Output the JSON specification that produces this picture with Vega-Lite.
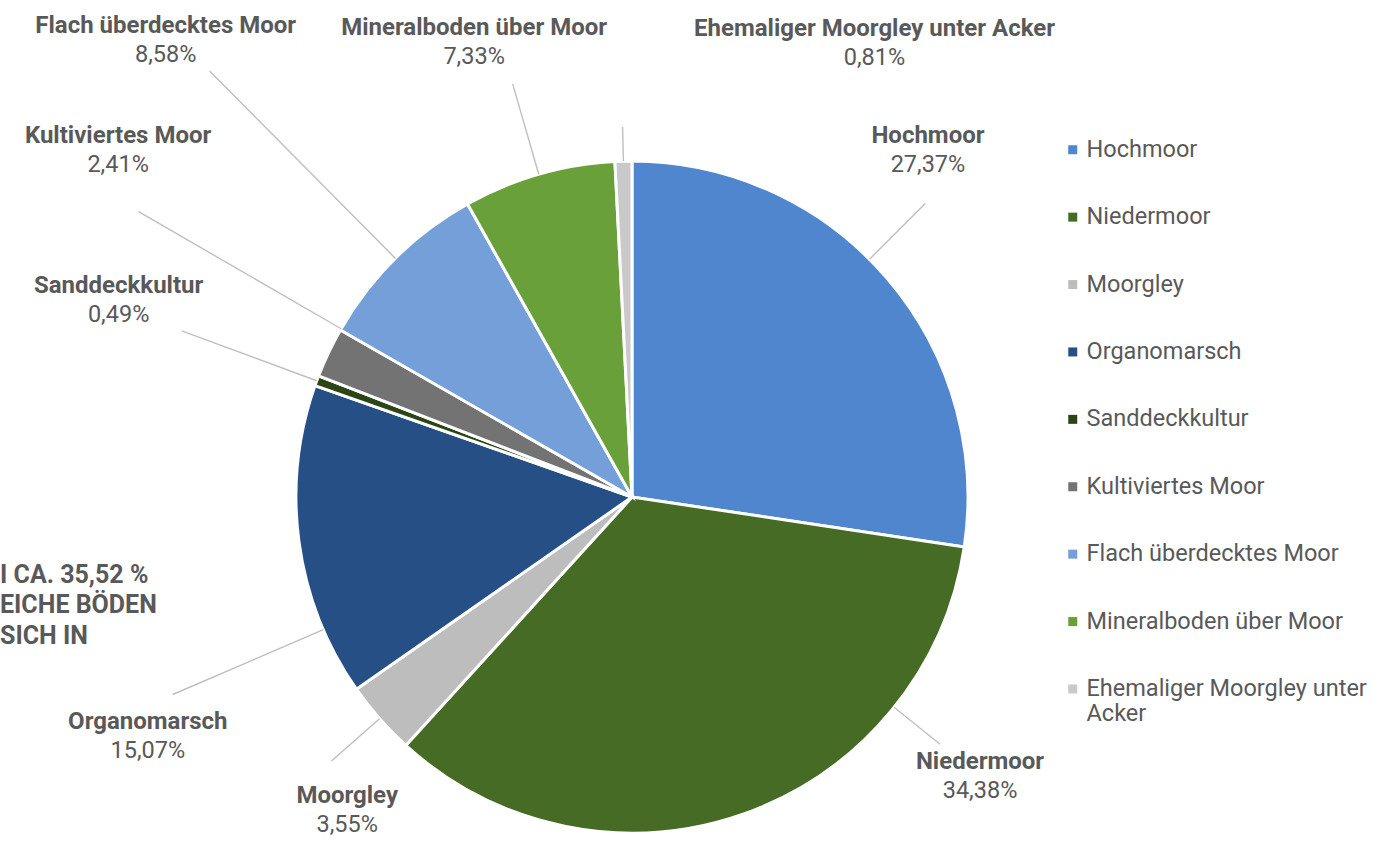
{
  "$schema": "https://vega.github.io/schema/vega-lite/v6.json",
  "width": 692,
  "height": 692,
  "autosize": {"type": "none"},
  "padding": {"left": 286, "top": 151, "right": 409, "bottom": 0},
  "title": {
    "text": ["I CA. 35,52 %", "EICHE BÖDEN", "SICH IN"],
    "orient": "top", "anchor": "start", "frame": "group", "offset": 0,
    "dx": -286, "dy": 817, "font": "Roboto", "fontSize": 25, "fontWeight": "bold",
    "color": "#595959", "lineHeight": 30.5, "baseline": "top", "align": "left"
  },
  "data": {
    "values": [
      {"idx": 1, "category": "Hochmoor", "share": 0.2737},
      {"idx": 2, "category": "Niedermoor", "share": 0.3438},
      {"idx": 3, "category": "Moorgley", "share": 0.0355},
      {"idx": 4, "category": "Organomarsch", "share": 0.1507},
      {"idx": 5, "category": "Sanddeckkultur", "share": 0.0049},
      {"idx": 6, "category": "Kultiviertes Moor", "share": 0.0241},
      {"idx": 7, "category": "Flach überdecktes Moor", "share": 0.0858},
      {"idx": 8, "category": "Mineralboden über Moor", "share": 0.0733},
      {"idx": 9, "category": "Ehemaliger Moorgley unter Acker", "share": 0.0081}
    ]
  },
  "transform": [
    {"stack": "share", "groupby": [], "sort": [{"field": "idx", "order": "ascending"}], "as": ["s0", "s1"]}
  ],
  "layer": [
    {
      "mark": {"type": "arc", "radius": 336, "stroke": "#ffffff", "strokeWidth": 3},
      "encoding": {
        "theta": {"field": "s0", "type": "quantitative", "scale": {"domain": [0, 0.9999], "zero": true, "nice": false}},
        "theta2": {"field": "s1"},
        "color": {
          "field": "category", "type": "nominal",
          "scale": {
            "domain": ["Hochmoor", "Niedermoor", "Moorgley", "Organomarsch", "Sanddeckkultur", "Kultiviertes Moor", "Flach überdecktes Moor", "Mineralboden über Moor", "Ehemaliger Moorgley unter Acker"],
            "range": ["#4F86CD", "#466B24", "#BDBDBD", "#264F85", "#2B4516", "#737373", "#749FD8", "#69A03A", "#C9C9C9"]
          },
          "legend": {
            "title": null, "orient": "none", "legendX": 775, "legendY": -13,
            "symbolType": "square", "symbolSize": 81, "symbolStrokeWidth": 0,
            "labelFont": "Roboto", "labelFontSize": 23.5, "labelColor": "#595959",
            "labelOffset": 2, "rowPadding": 42.4, "labelLimit": 400, "padding": 0,
            "labelExpr": "datum.label === 'Ehemaliger Moorgley unter Acker' ? ['Ehemaliger Moorgley unter', 'Acker'] : datum.label"
          }
        }
      }
    },
    {
      "mark": {"type": "arc", "radius": 415, "radius2": 336, "thetaOffset": -0.075, "theta2Offset": -0.075, "padAngle": 3.14, "fillOpacity": 0, "stroke": "#BFBFBF", "strokeWidth": 1.4},
      "encoding": {
        "theta": {"field": "s0", "type": "quantitative"}, "theta2": {"field": "s1"},
        "strokeOpacity": {"condition": {"test": "datum.category === 'Hochmoor'", "value": 1}, "value": 0}
      }
    },
    {
      "mark": {"type": "arc", "radius": 395, "radius2": 336, "thetaOffset": -0.553, "theta2Offset": -0.553, "padAngle": 3.14, "fillOpacity": 0, "stroke": "#BFBFBF", "strokeWidth": 1.4},
      "encoding": {
        "theta": {"field": "s0", "type": "quantitative"}, "theta2": {"field": "s1"},
        "strokeOpacity": {"condition": {"test": "datum.category === 'Niedermoor'", "value": 1}, "value": 0}
      }
    },
    {
      "mark": {"type": "arc", "radius": 400, "radius2": 336, "padAngle": 3.14, "fillOpacity": 0, "stroke": "#BFBFBF", "strokeWidth": 1.4},
      "encoding": {
        "theta": {"field": "s0", "type": "quantitative"}, "theta2": {"field": "s1"},
        "strokeOpacity": {"condition": {"test": "datum.category === 'Moorgley'", "value": 1}, "value": 0}
      }
    },
    {
      "mark": {"type": "arc", "radius": 500, "radius2": 336, "thetaOffset": -0.2705, "theta2Offset": -0.2705, "padAngle": 3.14, "fillOpacity": 0, "stroke": "#BFBFBF", "strokeWidth": 1.4},
      "encoding": {
        "theta": {"field": "s0", "type": "quantitative"}, "theta2": {"field": "s1"},
        "strokeOpacity": {"condition": {"test": "datum.category === 'Organomarsch'", "value": 1}, "value": 0}
      }
    },
    {
      "mark": {"type": "arc", "radius": 370, "radius2": 336, "padAngle": 3.14, "fillOpacity": 0, "stroke": "#BFBFBF", "strokeWidth": 1.4},
      "encoding": {
        "theta": {"field": "s0", "type": "quantitative"}, "theta2": {"field": "s1"},
        "strokeOpacity": {"condition": {"test": "datum.category === 'Ehemaliger Moorgley unter Acker'", "value": 1}, "value": 0}
      }
    },
    {
      "mark": {"type": "arc", "radius": 480, "radius2": 336, "padAngle": 3.14, "fillOpacity": 0, "stroke": "#BFBFBF", "strokeWidth": 1.4},
      "encoding": {
        "theta": {"field": "s0", "type": "quantitative"}, "theta2": {"field": "s1"},
        "strokeOpacity": {"condition": {"test": "datum.category === 'Sanddeckkultur'", "value": 1}, "value": 0}
      }
    },
    {
      "mark": {"type": "arc", "radius": 570, "radius2": 336, "thetaOffset": 0.08, "theta2Offset": 0.08, "padAngle": 3.14, "fillOpacity": 0, "stroke": "#BFBFBF", "strokeWidth": 1.4},
      "encoding": {
        "theta": {"field": "s0", "type": "quantitative"}, "theta2": {"field": "s1"},
        "strokeOpacity": {"condition": {"test": "datum.category === 'Kultiviertes Moor'", "value": 1}, "value": 0}
      }
    },
    {
      "mark": {"type": "arc", "radius": 600, "radius2": 336, "padAngle": 3.14, "fillOpacity": 0, "stroke": "#BFBFBF", "strokeWidth": 1.4},
      "encoding": {
        "theta": {"field": "s0", "type": "quantitative"}, "theta2": {"field": "s1"},
        "strokeOpacity": {"condition": {"test": "datum.category === 'Flach überdecktes Moor'", "value": 1}, "value": 0}
      }
    },
    {
      "mark": {"type": "arc", "radius": 430, "radius2": 336, "padAngle": 3.14, "fillOpacity": 0, "stroke": "#BFBFBF", "strokeWidth": 1.4},
      "encoding": {
        "theta": {"field": "s0", "type": "quantitative"}, "theta2": {"field": "s1"},
        "strokeOpacity": {"condition": {"test": "datum.category === 'Mineralboden über Moor'", "value": 1}, "value": 0}
      }
    },
    {
      "mark": {"type": "text", "radius": 456, "thetaOffset": 0.7063, "dy": -14, "fontSize": 24, "fontWeight": "bold", "color": "#595959"},
      "encoding": {
        "theta": {"field": "s0", "type": "quantitative", "stack": null},
        "text": {"condition": {"test": "datum.category === 'Hochmoor'", "field": "category", "type": "nominal"}, "value": ""}
      }
    },
    {
      "mark": {"type": "text", "radius": 456, "thetaOffset": 0.7063, "dy": 15, "fontSize": 23.5, "color": "#595959"},
      "encoding": {
        "theta": {"field": "s0", "type": "quantitative", "stack": null},
        "text": {"condition": {"test": "datum.category === 'Hochmoor'", "field": "share", "type": "quantitative", "format": ".2%"}, "value": ""}
      }
    },
    {
      "mark": {"type": "text", "radius": 446, "thetaOffset": 0.5266, "dy": -14, "fontSize": 24, "fontWeight": "bold", "color": "#595959"},
      "encoding": {
        "theta": {"field": "s0", "type": "quantitative", "stack": null},
        "text": {"condition": {"test": "datum.category === 'Niedermoor'", "field": "category", "type": "nominal"}, "value": ""}
      }
    },
    {
      "mark": {"type": "text", "radius": 446, "thetaOffset": 0.5266, "dy": 15, "fontSize": 23.5, "color": "#595959"},
      "encoding": {
        "theta": {"field": "s0", "type": "quantitative", "stack": null},
        "text": {"condition": {"test": "datum.category === 'Niedermoor'", "field": "share", "type": "quantitative", "format": ".2%"}, "value": ""}
      }
    },
    {
      "mark": {"type": "text", "radius": 423, "dy": -14, "fontSize": 24, "fontWeight": "bold", "color": "#595959"},
      "encoding": {
        "theta": {"field": "s0", "type": "quantitative", "stack": null},
        "text": {"condition": {"test": "datum.category === 'Moorgley'", "field": "category", "type": "nominal"}, "value": ""}
      }
    },
    {
      "mark": {"type": "text", "radius": 423, "dy": 15, "fontSize": 23.5, "color": "#595959"},
      "encoding": {
        "theta": {"field": "s0", "type": "quantitative", "stack": null},
        "text": {"condition": {"test": "datum.category === 'Moorgley'", "field": "share", "type": "quantitative", "format": ".2%"}, "value": ""}
      }
    },
    {
      "mark": {"type": "text", "radius": 540, "thetaOffset": 0.1504, "dy": -14, "fontSize": 24, "fontWeight": "bold", "color": "#595959"},
      "encoding": {
        "theta": {"field": "s0", "type": "quantitative", "stack": null},
        "text": {"condition": {"test": "datum.category === 'Organomarsch'", "field": "category", "type": "nominal"}, "value": ""}
      }
    },
    {
      "mark": {"type": "text", "radius": 540, "thetaOffset": 0.1504, "dy": 15, "fontSize": 23.5, "color": "#595959"},
      "encoding": {
        "theta": {"field": "s0", "type": "quantitative", "stack": null},
        "text": {"condition": {"test": "datum.category === 'Organomarsch'", "field": "share", "type": "quantitative", "format": ".2%"}, "value": ""}
      }
    },
    {
      "mark": {"type": "text", "radius": 550, "thetaOffset": 0.0291, "dy": -14, "fontSize": 24, "fontWeight": "bold", "color": "#595959"},
      "encoding": {
        "theta": {"field": "s0", "type": "quantitative", "stack": null},
        "text": {"condition": {"test": "datum.category === 'Sanddeckkultur'", "field": "category", "type": "nominal"}, "value": ""}
      }
    },
    {
      "mark": {"type": "text", "radius": 550, "thetaOffset": 0.0291, "dy": 15, "fontSize": 23.5, "color": "#595959"},
      "encoding": {
        "theta": {"field": "s0", "type": "quantitative", "stack": null},
        "text": {"condition": {"test": "datum.category === 'Sanddeckkultur'", "field": "share", "type": "quantitative", "format": ".2%"}, "value": ""}
      }
    },
    {
      "mark": {"type": "text", "radius": 620, "thetaOffset": 0.2251, "dy": -14, "fontSize": 24, "fontWeight": "bold", "color": "#595959"},
      "encoding": {
        "theta": {"field": "s0", "type": "quantitative", "stack": null},
        "text": {"condition": {"test": "datum.category === 'Kultiviertes Moor'", "field": "category", "type": "nominal"}, "value": ""}
      }
    },
    {
      "mark": {"type": "text", "radius": 620, "thetaOffset": 0.2251, "dy": 15, "fontSize": 23.5, "color": "#595959"},
      "encoding": {
        "theta": {"field": "s0", "type": "quantitative", "stack": null},
        "text": {"condition": {"test": "datum.category === 'Kultiviertes Moor'", "field": "share", "type": "quantitative", "format": ".2%"}, "value": ""}
      }
    },
    {
      "mark": {"type": "text", "radius": 653, "thetaOffset": 0.2553, "dy": -14, "fontSize": 24, "fontWeight": "bold", "color": "#595959"},
      "encoding": {
        "theta": {"field": "s0", "type": "quantitative", "stack": null},
        "text": {"condition": {"test": "datum.category === 'Flach überdecktes Moor'", "field": "category", "type": "nominal"}, "value": ""}
      }
    },
    {
      "mark": {"type": "text", "radius": 653, "thetaOffset": 0.2553, "dy": 15, "fontSize": 23.5, "color": "#595959"},
      "encoding": {
        "theta": {"field": "s0", "type": "quantitative", "stack": null},
        "text": {"condition": {"test": "datum.category === 'Flach überdecktes Moor'", "field": "share", "type": "quantitative", "format": ".2%"}, "value": ""}
      }
    },
    {
      "mark": {"type": "text", "radius": 482, "thetaOffset": 0.1778, "dy": -14, "fontSize": 24, "fontWeight": "bold", "color": "#595959"},
      "encoding": {
        "theta": {"field": "s0", "type": "quantitative", "stack": null},
        "text": {"condition": {"test": "datum.category === 'Mineralboden über Moor'", "field": "category", "type": "nominal"}, "value": ""}
      }
    },
    {
      "mark": {"type": "text", "radius": 482, "thetaOffset": 0.1778, "dy": 15, "fontSize": 23.5, "color": "#595959"},
      "encoding": {
        "theta": {"field": "s0", "type": "quantitative", "stack": null},
        "text": {"condition": {"test": "datum.category === 'Mineralboden über Moor'", "field": "share", "type": "quantitative", "format": ".2%"}, "value": ""}
      }
    },
    {
      "mark": {"type": "text", "radius": 515, "thetaOffset": 0.5412, "dy": -14, "fontSize": 24, "fontWeight": "bold", "color": "#595959"},
      "encoding": {
        "theta": {"field": "s0", "type": "quantitative", "stack": null},
        "text": {"condition": {"test": "datum.category === 'Ehemaliger Moorgley unter Acker'", "field": "category", "type": "nominal"}, "value": ""}
      }
    },
    {
      "mark": {"type": "text", "radius": 515, "thetaOffset": 0.5412, "dy": 15, "fontSize": 23.5, "color": "#595959"},
      "encoding": {
        "theta": {"field": "s0", "type": "quantitative", "stack": null},
        "text": {"condition": {"test": "datum.category === 'Ehemaliger Moorgley unter Acker'", "field": "share", "type": "quantitative", "format": ".2%"}, "value": ""}
      }
    }
  ],
  "config": {
    "font": "Roboto",
    "view": {"stroke": null},
    "locale": {"number": {"decimal": ",", "thousands": ".", "grouping": [3], "currency": ["", " €"]}}
  }
}
